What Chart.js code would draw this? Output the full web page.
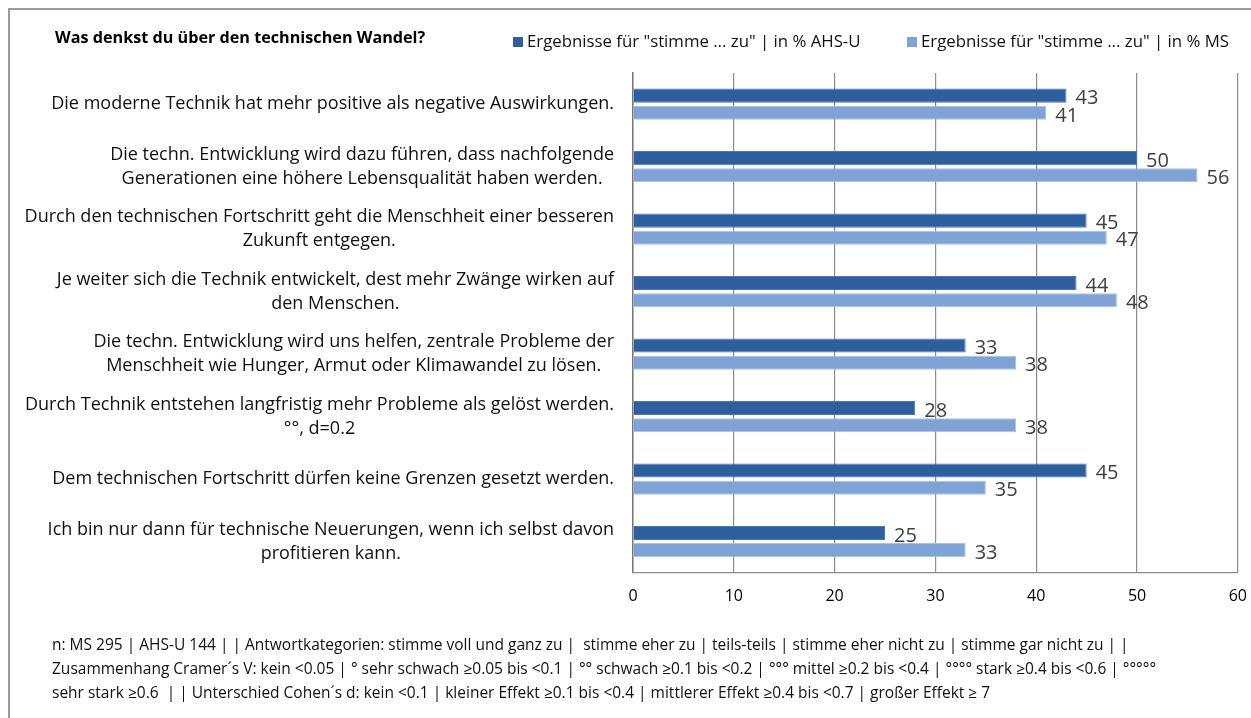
<!DOCTYPE html>
<html>
<head>
<meta charset="utf-8">
<script src="https://cdn.jsdelivr.net/npm/chart.js@4.4.1/dist/chart.umd.min.js"></script>
<style>
  html, body { margin: 0; padding: 0; background: #fff; overflow: hidden; }
  #wrap { position: relative; width: 1251px; height: 718px; overflow: hidden; }
  #frame { position: absolute; left: 8px; top: 8px; right: -4px; bottom: -4px; border-left: 2px solid #9a9a9a; border-top: 2px solid #9a9a9a; }
  canvas { position: absolute; left: 0; top: 0; }
</style>
</head>
<body>
<div id="wrap">
  <div id="frame"></div>
  <canvas id="chart" width="1261" height="718"></canvas>
</div>
<script>
const chartTitle = 'Was denkst du über den technischen Wandel?';

const categories = [
  ['Die moderne Technik hat mehr positive als negative Auswirkungen.'],
  ['Die techn. Entwicklung wird dazu führen, dass nachfolgende', 'Generationen eine höhere Lebensqualität haben werden.'],
  ['Durch den technischen Fortschritt geht die Menschheit einer besseren', 'Zukunft entgegen.'],
  ['Je weiter sich die Technik entwickelt, dest mehr Zwänge wirken auf', 'den Menschen.'],
  ['Die techn. Entwicklung wird uns helfen, zentrale Probleme der', 'Menschheit wie Hunger, Armut oder Klimawandel zu lösen.'],
  ['Durch Technik entstehen langfristig mehr Probleme als gelöst werden.', '°°, d=0.2'],
  ['Dem technischen Fortschritt dürfen keine Grenzen gesetzt werden.'],
  ['Ich bin nur dann für technische Neuerungen, wenn ich selbst davon', 'profitieren kann.']
];

const seriesNames = [
  'Ergebnisse für "stimme ... zu" | in % AHS-U',
  'Ergebnisse für "stimme ... zu" | in % MS'
];
const ahsValues = [43, 50, 45, 44, 33, 28, 45, 25];
const msValues = [41, 56, 47, 48, 38, 38, 35, 33];

const footerLines = [
  'n: MS 295 | AHS-U 144 | | Antwortkategorien: stimme voll und ganz zu |  stimme eher zu | teils-teils | stimme eher nicht zu | stimme gar nicht zu | |',
  'Zusammenhang Cramer´s V: kein <0.05 | ° sehr schwach ≥0.05 bis <0.1 | °° schwach ≥0.1 bis <0.2 | °°° mittel ≥0.2 bis <0.4 | °°°° stark ≥0.4 bis <0.6 | °°°°°',
  'sehr stark ≥0.6  | | Unterschied Cohen´s d: kein <0.1 | kleiner Effekt ≥0.1 bis <0.4 | mittlerer Effekt ≥0.4 bis <0.7 | großer Effekt ≥ 7'
];

const darkBlue = '#2e5e9e';
const lightBlue = '#7fa3d7';
const FONT = '"Open Sans", "DejaVu Sans", sans-serif';

// category labels, value labels, legend, title and footer
const decorations = {
  id: 'decorations',
  afterDatasetsDraw(chart) {
    const ctx = chart.ctx;
    const yScale = chart.scales.y;

    // value labels next to each bar
    ctx.save();
    ctx.font = '20px ' + FONT;
    ctx.fillStyle = '#404040';
    ctx.textAlign = 'left';
    ctx.textBaseline = 'middle';
    chart.data.datasets.forEach((ds, di) => {
      chart.getDatasetMeta(di).data.forEach((bar, i) => {
        ctx.fillText(ds.data[i], bar.x + 9, bar.y + 3);
      });
    });
    ctx.restore();

    // category labels: block right-aligned, lines centered
    ctx.save();
    ctx.font = '18px ' + FONT;
    ctx.fillStyle = '#111';
    ctx.textAlign = 'center';
    ctx.textBaseline = 'middle';
    const right = 614, lh = 24;
    categories.forEach((lines, i) => {
      const cy = yScale.getPixelForValue(i);
      const w = Math.max(...lines.map(l => ctx.measureText(l).width));
      const cx = right - w / 2;
      lines.forEach((l, k) => {
        ctx.fillText(l, cx, cy + (k - (lines.length - 1) / 2) * lh);
      });
    });
    ctx.restore();

    // title
    ctx.save();
    ctx.font = 'bold 16.2px ' + FONT;
    ctx.fillStyle = '#000';
    ctx.textBaseline = 'middle';
    ctx.fillText(chartTitle, 55, 38);
    ctx.restore();

    // legend
    ctx.save();
    ctx.font = '16.8px ' + FONT;
    ctx.textBaseline = 'middle';
    const legendX = [513, 907];
    chart.data.datasets.forEach((ds, di) => {
      ctx.fillStyle = ds.backgroundColor;
      ctx.fillRect(legendX[di], 37, 10, 10);
      ctx.fillStyle = '#111';
      ctx.fillText(ds.label, legendX[di] + 14, 42);
    });
    ctx.restore();

    // footer notes
    ctx.save();
    ctx.font = '15.5px ' + FONT;
    ctx.fillStyle = '#111';
    ctx.textBaseline = 'middle';
    footerLines.forEach((l, k) => ctx.fillText(l, 52, 646 + k * 24));
    ctx.restore();
  }
};

new Chart(document.getElementById('chart'), {
  type: 'bar',
  data: {
    labels: categories,
    datasets: [
      {
        label: seriesNames[0],
        data: ahsValues,
        backgroundColor: darkBlue,
        borderColor: '#4a78b5',
        borderWidth: 1,
        categoryPercentage: 0.55,
        barPercentage: 0.82
      },
      {
        label: seriesNames[1],
        data: msValues,
        backgroundColor: lightBlue,
        borderColor: '#a6c0e6',
        borderWidth: 1,
        categoryPercentage: 0.55,
        barPercentage: 0.82
      }
    ]
  },
  options: {
    indexAxis: 'y',
    responsive: false,
    animation: false,
    layout: {
      padding: { left: 633, top: 73, right: 0, bottom: 98 }
    },
    plugins: {
      legend: { display: false },
      tooltip: { enabled: false }
    },
    scales: {
      x: {
        min: 0,
        max: 60,
        ticks: {
          stepSize: 10,
          color: '#000',
          padding: 14,
          font: { size: 16, family: FONT }
        },
        grid: {
          color: '#8c8c8c',
          lineWidth: 1.2,
          drawTicks: false
        },
        border: { display: true, color: '#8c8c8c', width: 1.2 }
      },
      y: {
        ticks: { display: false },
        grid: { display: false, drawTicks: false },
        border: { display: true, color: '#7a7a7a', width: 1.5 }
      }
    }
  },
  plugins: [decorations]
});
</script>
</body>
</html>
